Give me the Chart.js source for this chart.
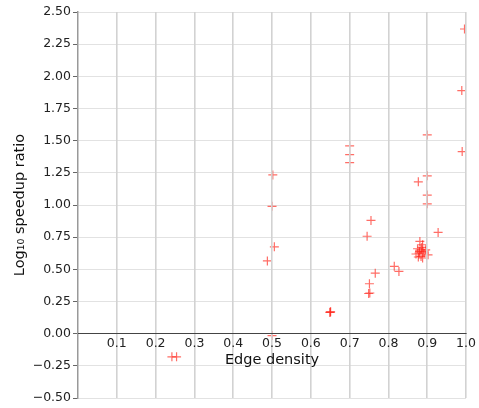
<!DOCTYPE html>
<html>
<head>
<meta charset="utf-8">
<script src="https://cdn.jsdelivr.net/npm/chart.js@4"></script>
<style>
    html, body { margin: 0; padding: 0; background: #fff; }
    #wrap { width: 479px; height: 408px; }
</style>
</head>
<body>
<div id="wrap"><canvas id="graphique" width="479" height="408"></canvas></div>
<script>
const densite = [0.242, 0.254, 0.488, 0.506, 0.500, 0.502, 0.500, 0.700, 0.700, 0.700,
    0.650, 0.649, 0.651, 0.745, 0.755, 0.751, 0.749, 0.752, 0.766, 0.815,
    0.827, 0.877, 0.900, 0.900, 0.900, 0.900, 0.928, 0.990, 0.989, 0.996,
    0.881, 0.888, 0.875, 0.896, 0.879, 0.892, 0.871, 0.884, 0.902, 0.888,
    0.884, 0.889, 0.880, 0.886, 0.877];
const speedup = [-0.18, -0.18, 0.565, 0.675, 0.990, 1.234, -0.015, 1.460, 1.392, 1.330,
    0.168, 0.165, 0.170, 0.757, 0.880, 0.388, 0.312, 0.316, 0.470, 0.523,
    0.484, 1.180, 1.227, 1.077, 1.009, 1.545, 0.787, 1.415, 1.889, 2.368,
    0.717, 0.691, 0.660, 0.652, 0.627, 0.627, 0.619, 0.600, 0.613, 0.588,
    0.652, 0.637, 0.640, 0.670, 0.596];
const ticksX = [0.1, 0.2, 0.3, 0.4, 0.5, 0.6, 0.7, 0.8, 0.9, 1.0];
const ticksY = [-0.5, -0.25, 0, 0.25, 0.5, 0.75, 1.0, 1.25, 1.5, 1.75, 2.0, 2.25, 2.5];

const points = densite.map(function(x, i) {
    return { x: x, y: speedup[i] };
});

const police = "'DejaVu Sans', sans-serif";

new Chart(document.getElementById("graphique"), {
    type: "scatter",
    data: {
        datasets: [{
            data: points,
            pointStyle: "cross",
            pointRadius: 4.5,
            pointBorderWidth: 1.2,
            borderColor: "rgba(255, 30, 20, 0.65)",
            backgroundColor: "rgba(255, 30, 20, 0.65)"
        }]
    },
    options: {
        responsive: false,
        animation: false,
        layout: { padding: { left: 0, right: 12, top: 12, bottom: 10 } },
        plugins: { legend: { display: false }, tooltip: { enabled: false } },
        scales: {
            x: {
                type: "linear",
                min: 0,
                max: 1,
                position: { y: 0 },
                afterBuildTicks: function(scale) {
                    scale.ticks = ticksX.map(function(v) { return { value: v }; });
                },
                afterFit: function(scale) { scale.height = 0; },
                grid: {
                    z: 1,
                    color: "#d2d2d2",
                    lineWidth: 1.6,
                    drawTicks: false
                },
                // la bordure doit venir après la grille (sinon _borderValue n'est pas encore calculé)
                border: { display: true, color: "#444", width: 1, z: 2 },
                ticks: {
                    z: 3,
                    padding: 3,
                    color: "#222",
                    font: { family: police, size: 12.5 },
                    callback: function(v) { return Number(v).toFixed(1); }
                },
                title: {
                    display: true,
                    text: "Edge density",
                    color: "#111",
                    font: { family: police, size: 14.5 },
                    padding: { top: 0, bottom: -35 }
                }
            },
            y: {
                type: "linear",
                min: -0.5,
                max: 2.5,
                afterBuildTicks: function(scale) {
                    scale.ticks = ticksY.map(function(v) { return { value: v }; });
                },
                afterFit: function(scale) { scale.width = 78; },
                grid: {
                    color: "#e2e2e2",
                    lineWidth: 1,
                    borderDash: [2, 2],
                    tickLength: 5,
                    tickColor: "#666",
                    tickBorderDash: [],
                    tickWidth: 1
                },
                border: { display: true, color: "#999", width: 1.5 },
                ticks: {
                    padding: 2,
                    color: "#222",
                    font: { family: police, size: 12.5 },
                    callback: function(v) { return Number(v).toFixed(2).replace("-", "\u2212"); }
                },
                title: {
                    display: true,
                    text: "Log\u2081\u2080 speedup ratio",
                    color: "#111",
                    font: { family: police, size: 14.5 },
                    padding: { top: 12, bottom: 0 }
                }
            }
        }
    }
});
</script>
</body>
</html>
